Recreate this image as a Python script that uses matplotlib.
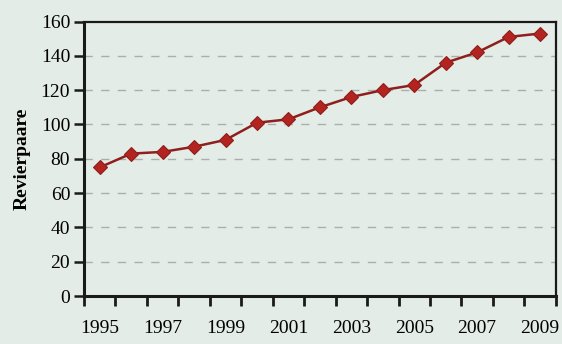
import matplotlib
matplotlib.use("Agg")
import matplotlib.pyplot as plt
import numpy as np

years = [1995, 1996, 1997, 1998, 1999, 2000, 2001, 2002, 2003, 2004,
         2005, 2006, 2007, 2008, 2009]
pairs = [75, 83, 84, 87, 91, 101, 103, 110, 116, 120, 123, 136, 142, 151, 153]
y_ticks = [0, 20, 40, 60, 80, 100, 120, 140, 160]
x_labels = ["1995", "1997", "1999", "2001", "2003", "2005", "2007", "2009"]

bg = "#e4ece8"
plt.rcParams['font.family'] = ['Liberation Serif', 'DejaVu Serif']

fig = plt.figure(figsize=(5.62, 3.44), dpi=100, facecolor=bg)
ax = fig.add_axes([0.1495, 0.1395, 0.8395, 0.798])
ax.set_facecolor(bg)

x = np.arange(len(years))
ax.plot(x, pairs, color="#8e1f1c", lw=1.8, marker="D", markersize=7.5,
        markerfacecolor="#b32420", markeredgecolor="#8e1f1c", markeredgewidth=0.8,
        zorder=3)

ax.set_xlim(-0.5, len(years) - 0.5)
ax.set_ylim(0, 160)
ax.set_yticks(y_ticks)
ax.set_yticklabels([str(v) for v in y_ticks], fontsize=14)
for v in y_ticks[1:-1]:
    ax.axhline(v, color="#a9afac", lw=1.0, ls=(0, (6, 6)), zorder=1)

# category boundary ticks (major), labels at category centres (minor)
ax.set_xticks(np.arange(-0.5, len(years), 1.0))
ax.set_xticklabels([])
ax.set_xticks(x[::2], minor=True)
ax.set_xticklabels(x_labels, minor=True, fontsize=14)
ax.tick_params(axis="x", which="major", direction="out", length=7, width=2, color="#1a1a1a")
ax.tick_params(axis="x", which="minor", length=0, pad=17)
ax.tick_params(axis="y", direction="out", length=7, width=1.8, color="#1a1a1a", pad=3)

for s in ["left", "bottom"]:
    ax.spines[s].set_linewidth(2.2)
    ax.spines[s].set_color("#1a1a1a")
for s in ["top", "right"]:
    ax.spines[s].set_linewidth(1.6)
    ax.spines[s].set_color("#1a1a1a")

ax.set_ylabel("Revierpaare", fontsize=14, fontweight="bold", labelpad=7)

fig.savefig("out.png", dpi=100, facecolor=bg)
